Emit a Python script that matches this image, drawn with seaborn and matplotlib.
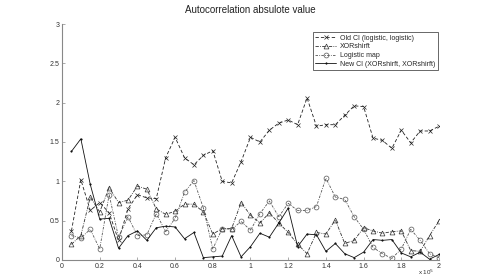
import matplotlib
matplotlib.use("Agg")
import matplotlib.pyplot as plt
import seaborn as sns
import pandas as pd

x_vals = [0.05, 0.10, 0.15, 0.20, 0.25, 0.30, 0.35, 0.40, 0.45, 0.50,
          0.55, 0.60, 0.65, 0.70, 0.75, 0.80, 0.85, 0.90, 0.95, 1.00,
          1.05, 1.10, 1.15, 1.20, 1.25, 1.30, 1.35, 1.40, 1.45, 1.50,
          1.55, 1.60, 1.65, 1.70, 1.75, 1.80, 1.85, 1.90, 1.95, 2.00]

old_ci = [0.37, 1.02, 0.63, 0.73, 0.60, 0.25, 0.65, 0.83, 0.79, 0.78,
          1.30, 1.56, 1.30, 1.21, 1.33, 1.39, 1.00, 0.98, 1.25, 1.56,
          1.50, 1.65, 1.74, 1.78, 1.72, 2.06, 1.70, 1.72, 1.72, 1.84,
          1.96, 1.95, 1.55, 1.52, 1.42, 1.65, 1.49, 1.64, 1.64, 1.70]

xorshift = [0.20, 0.31, 0.80, 0.61, 0.92, 0.73, 0.76, 0.94, 0.90, 0.65,
            0.58, 0.62, 0.71, 0.71, 0.61, 0.33, 0.40, 0.40, 0.73, 0.57,
            0.47, 0.60, 0.47, 0.35, 0.20, 0.08, 0.35, 0.33, 0.51, 0.21,
            0.25, 0.41, 0.37, 0.34, 0.36, 0.37, 0.12, 0.11, 0.31, 0.50]

logistic = [0.31, 0.28, 0.39, 0.14, 0.83, 0.29, 0.55, 0.31, 0.32, 0.59,
            0.36, 0.53, 0.86, 1.01, 0.66, 0.14, 0.40, 0.39, 0.49, 0.38,
            0.59, 0.75, 0.55, 0.72, 0.63, 0.63, 0.68, 1.04, 0.80, 0.77,
            0.55, 0.39, 0.16, 0.08, 0.02, 0.14, 0.39, 0.25, 0.08, 0.03]

new_ci = [1.38, 1.54, 0.96, 0.52, 0.53, 0.15, 0.31, 0.37, 0.25, 0.41,
          0.43, 0.42, 0.27, 0.35, 0.03, 0.04, 0.05, 0.31, 0.04, 0.17,
          0.34, 0.29, 0.47, 0.66, 0.17, 0.33, 0.32, 0.11, 0.21, 0.08,
          0.03, 0.10, 0.26, 0.25, 0.26, 0.09, 0.04, 0.10, 0.01, 0.07]

labels = ["Old CI (logistic, logistic)", "XORshirft", "Logistic map",
          "New CI (XORshirft, XORshirft)"]
x_ticks = [0, 0.2, 0.4, 0.6, 0.8, 1, 1.2, 1.4, 1.6, 1.8, 2]
x_ticklabels = ["0", "0.2", "0.4", "0.6", "0.8", "1", "1.2", "1.4", "1.6", "1.8", "2"]
y_ticks = [0, 0.5, 1, 1.5, 2, 2.5, 3]
y_ticklabels = ["0", "0.5", "1", "1.5", "2", "2.5", "3"]

sns.set_style("ticks")
plt.rcParams["font.family"] = ["Liberation Sans", "DejaVu Sans"]

fig = plt.figure(figsize=(4.85, 2.77), dpi=100)
ax = fig.add_axes([62 / 485, 17 / 277, (439 - 62) / 485, (260 - 24) / 277])

series = [old_ci, xorshift, logistic, new_ci]
styles = [
    dict(linestyle=(0, (4, 2.5)), marker="x", markersize=2.5, color="#222222"),
    dict(linestyle=(0, (4, 1.5, 1, 1.5)), marker="^", markersize=3.5,
         markerfacecolor="none", color="#333333"),
    dict(linestyle=(0, (3, 1.5, 1, 1.5)), marker="o", markersize=3.5,
         markerfacecolor="none", color="#555555"),
    dict(linestyle="-", marker=".", markersize=2.0, color="#111111"),
]

for vals, lab, st in zip(series, labels, styles):
    df = pd.DataFrame({"x": x_vals, "y": vals})
    sns.lineplot(data=df, x="x", y="y", ax=ax, label=lab, linewidth=0.6,
                 markeredgewidth=0.5, markeredgecolor=st["color"], **st)

ax.set_xlim(0, 2)
ax.set_ylim(0, 3)
ax.set_xticks(x_ticks)
ax.set_xticklabels(x_ticklabels)
ax.set_yticks(y_ticks)
ax.set_yticklabels(y_ticklabels)
ax.set_xlabel("")
ax.set_ylabel("")
ax.tick_params(direction="in", length=2.5, width=0.5, labelsize=5, pad=2,
               colors="#888888", labelcolor="#333333")
for s in ["top", "right"]:
    ax.spines[s].set_visible(False)
for s in ["left", "bottom"]:
    ax.spines[s].set_color("#888888")
    ax.spines[s].set_linewidth(0.8)

ax.set_title("Autocorrelation absulote value", fontsize=7, pad=8, color="#222222")

leg = ax.legend(loc="upper right", bbox_to_anchor=(1.0, 0.97), fontsize=5,
                frameon=True, fancybox=False, edgecolor="#222222",
                handlelength=3.0, handletextpad=0.6, borderpad=0.3,
                labelspacing=0.25, borderaxespad=0.2)
leg.get_frame().set_linewidth(0.6)

fig.text(418 / 485, 0.0, r"x 10$^5$", fontsize=4.5, va="bottom", ha="left",
         color="#333333")

fig.savefig("out.png", dpi=100)
